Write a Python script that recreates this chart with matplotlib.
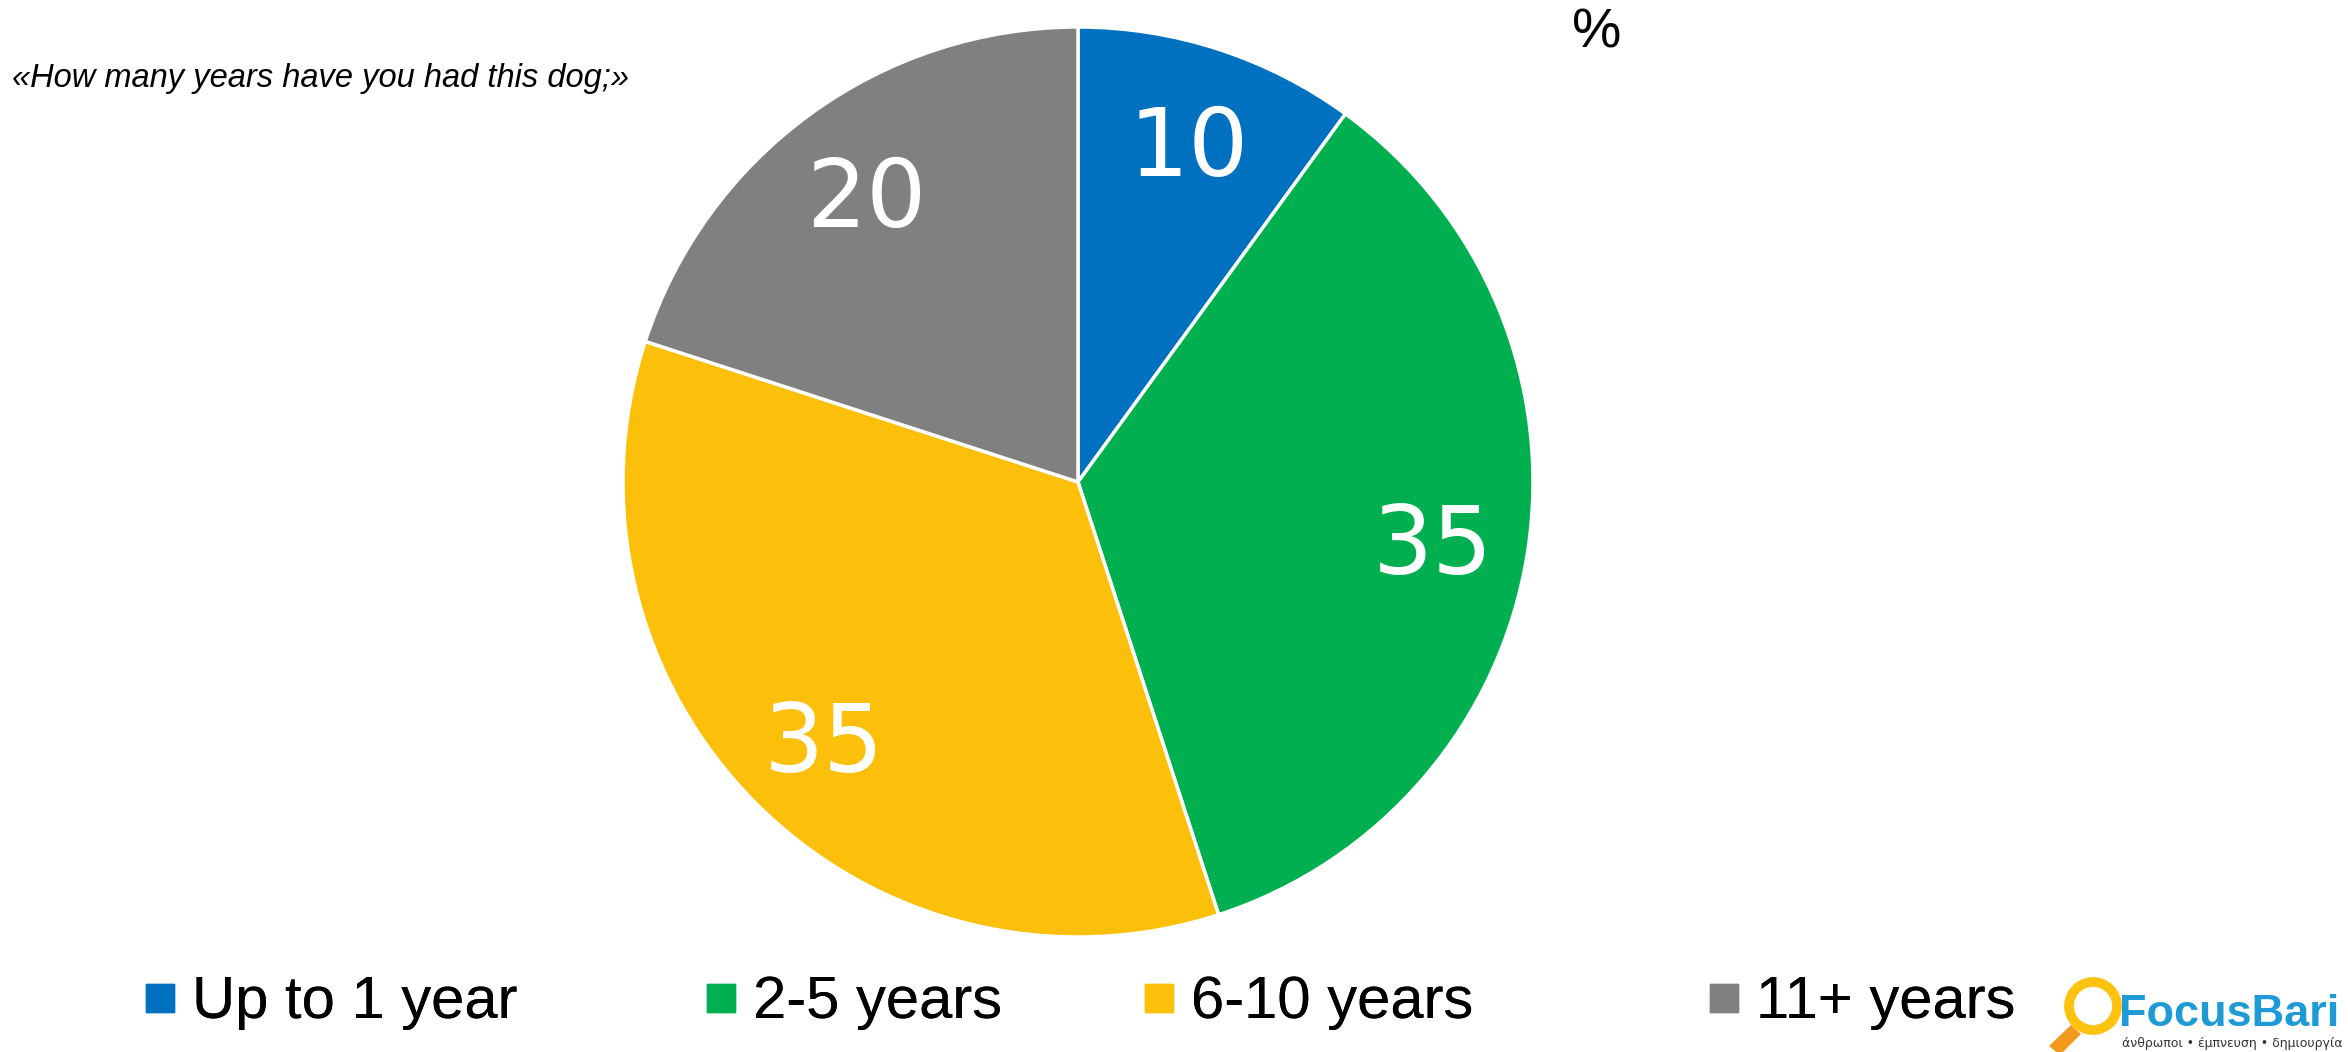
import matplotlib
matplotlib.use("Agg")
import matplotlib.pyplot as plt
from matplotlib.lines import Line2D
from matplotlib.patches import Circle, Polygon

categories = ["Up to 1 year", "2-5 years", "6-10 years", "11+ years"]
values = [10, 35, 35, 20]
colors = ["#0070C0", "#00B050", "#FCC00A", "#808080"]
title = "«How many years have you had this dog;»"

W, H = 2348, 1052
fig = plt.figure(figsize=(W / 100, H / 100), dpi=100)
fig.patch.set_facecolor("white")

# pie axes
cx, cy, r = 1078, 482, 455
ax = fig.add_axes([(cx - r) / W, (H - cy - r) / H, 2 * r / W, 2 * r / H])
wedges, texts = ax.pie(values, colors=colors, startangle=90, counterclock=False,
                       labels=[str(v) for v in values], labeldistance=0.79,
                       wedgeprops=dict(edgecolor="white", linewidth=2.5),
                       textprops=dict(color="white", fontsize=68, family="DejaVu Sans"))
for t in texts:
    t.set_ha("center")
    t.set_va("center_baseline")
ax.set_xlim(-1, 1)
ax.set_ylim(-1, 1)
ax.set_aspect("equal")
ax.axis("off")

# title
fig.text(12 / W, 1 - 78 / H, title, fontsize=23.5, style="italic", family="Liberation Sans",
         ha="left", va="center")
fig.text(1597 / W, 1 - 33 / H, "%", fontsize=40, family="Liberation Sans", ha="center", va="center")

# legend entries
leg_x = [147, 708, 1146, 1711]
for cat, col, x in zip(categories, colors, leg_x):
    h = Line2D([], [], marker="s", linestyle="", markersize=19.5, color=col)
    lg = fig.legend([h], [cat], loc="center left", bbox_to_anchor=(x / W, 1 - 1003 / H),
                    frameon=False, borderpad=0, borderaxespad=0, handlelength=0.45,
                    handletextpad=0.3, prop=dict(family="Liberation Sans", size=43))
    fig.add_artist(lg)

# logo
lax = fig.add_axes([0, 0, 1, 1], facecolor="none")
lax.set_xlim(0, W)
lax.set_ylim(H, 0)
lax.axis("off")
lax.add_patch(Polygon([[2050, 1046], [2060, 1054], [2080, 1034], [2071, 1026]], closed=True,
                      color="#F29A1E", zorder=2))
lax.add_patch(Circle((2093, 1006), 24, fill=False, edgecolor="#FFC20E", linewidth=7, zorder=3))
lax.text(2119, 1014, "FocusBari", fontsize=32.5, fontweight="bold", color="#1E9AD6",
         family="Liberation Sans", ha="left", va="center")
lax.text(2122, 1043, "άνθρωποι • έμπνευση • δημιουργία", fontsize=9, color="#333333",
         family="DejaVu Sans", ha="left", va="center")

fig.savefig("out.png", dpi=100)
